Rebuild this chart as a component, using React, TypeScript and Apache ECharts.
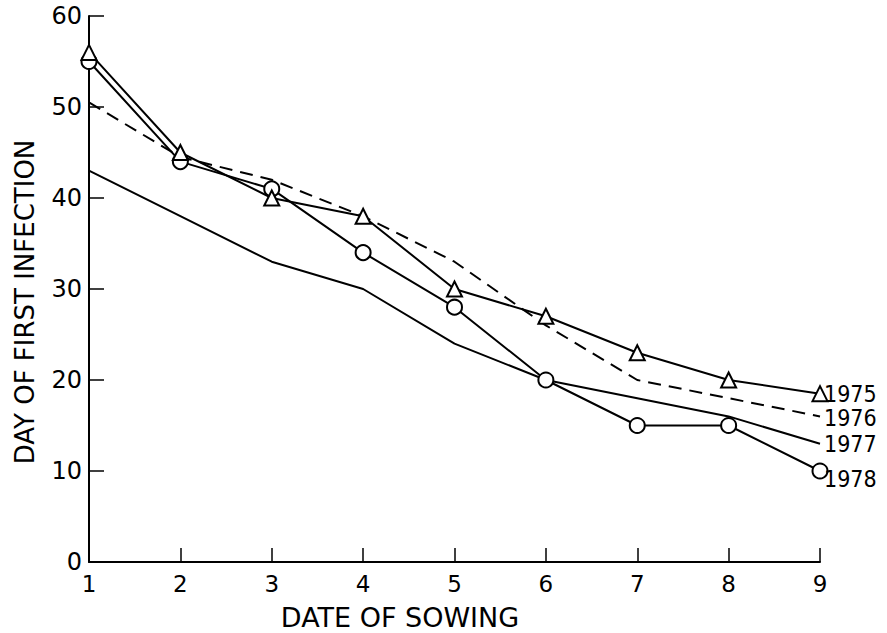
import React, { useEffect, useRef } from "react";
import * as echarts from "echarts";

const sowingDates = [1, 2, 3, 4, 5, 6, 7, 8, 9];
const y1975 = [56, 45, 40, 38, 30, 27, 23, 20, 18.5];
const y1976 = [50.5, 44.5, 42, 38, 33, 26, 20, 18, 16];
const y1977 = [43, 38, 33, 30, 24, 20, 18, 16, 13];
const y1978 = [55, 44, 41, 34, 28, 20, 15, 15, 10];
const yTicks = [0, 10, 20, 30, 40, 50, 60];

const FONT = '"DejaVu Sans", "Liberation Sans", sans-serif';
const FONT_C = '"DejaVu Sans Condensed", "DejaVu Sans", "Liberation Sans", sans-serif';

const pair = (ys: number[]) => sowingDates.map((x, i) => [x, ys[i]]);

export default function App() {
  const ref = useRef<HTMLDivElement>(null);
  useEffect(() => {
    document.body.style.margin = "0";
    const chart = echarts.init(ref.current!, null, { renderer: "svg" });
    const endLabel = (dy: number) => ({
      show: true,
      formatter: "{a}",
      color: "#000",
      fontSize: 23,
      fontFamily: FONT_C,
      distance: 4,
      offset: [0, dy],
    });
    chart.setOption({
      animation: false,
      backgroundColor: "#fff",
      grid: { left: 89, right: 67, top: 16, bottom: 71 },
      xAxis: {
        type: "value",
        min: 1,
        max: 9,
        interval: 1,
        axisLine: { lineStyle: { color: "#000", width: 2 } },
        axisTick: { inside: true, length: 14, lineStyle: { color: "#000", width: 1.5 } },
        axisLabel: { color: "#000", fontSize: 23, fontFamily: FONT, margin: 10 },
        splitLine: { show: false },
      },
      yAxis: {
        type: "value",
        min: yTicks[0],
        max: yTicks[yTicks.length - 1],
        interval: 10,
        axisLine: { show: true, lineStyle: { color: "#000", width: 2 } },
        axisTick: { show: true, inside: true, length: 15, lineStyle: { color: "#000", width: 1.5 } },
        axisLabel: { color: "#000", fontSize: 24, fontFamily: FONT, margin: 7 },
        splitLine: { show: false },
      },
      graphic: [
        {
          type: "text",
          x: 400,
          y: 617,
          style: {
            text: "DATE OF SOWING",
            fill: "#000",
            font: `27px ${FONT}`,
            align: "center",
            verticalAlign: "middle",
          },
        },
        {
          type: "text",
          x: 25,
          y: 302,
          rotation: Math.PI / 2,
          style: {
            text: "DAY OF FIRST INFECTION",
            fill: "#000",
            font: `26px ${FONT}`,
            align: "center",
            verticalAlign: "middle",
          },
        },
      ],
      series: [
        {
          name: "1975",
          type: "line",
          data: pair(y1975),
          symbol: "triangle",
          symbolSize: 15,
          showAllSymbol: true,
          itemStyle: { color: "#fff", borderColor: "#000", borderWidth: 2 },
          lineStyle: { color: "#000", width: 2 },
          endLabel: endLabel(0),
          z: 4,
        },
        {
          name: "1976",
          type: "line",
          data: pair(y1976),
          symbol: "none",
          lineStyle: { color: "#000", width: 2, type: [13, 8] },
          endLabel: endLabel(2),
          z: 2,
        },
        {
          name: "1977",
          type: "line",
          data: pair(y1977),
          symbol: "none",
          lineStyle: { color: "#000", width: 2 },
          endLabel: endLabel(0),
          z: 2,
        },
        {
          name: "1978",
          type: "line",
          data: pair(y1978),
          symbol: "circle",
          symbolSize: 15,
          showAllSymbol: true,
          itemStyle: { color: "#fff", borderColor: "#000", borderWidth: 2 },
          lineStyle: { color: "#000", width: 2 },
          endLabel: endLabel(8),
          z: 3,
        },
      ],
    });
    return () => chart.dispose();
  }, []);
  return <div ref={ref} style={{ width: 887, height: 633 }} />;
}
